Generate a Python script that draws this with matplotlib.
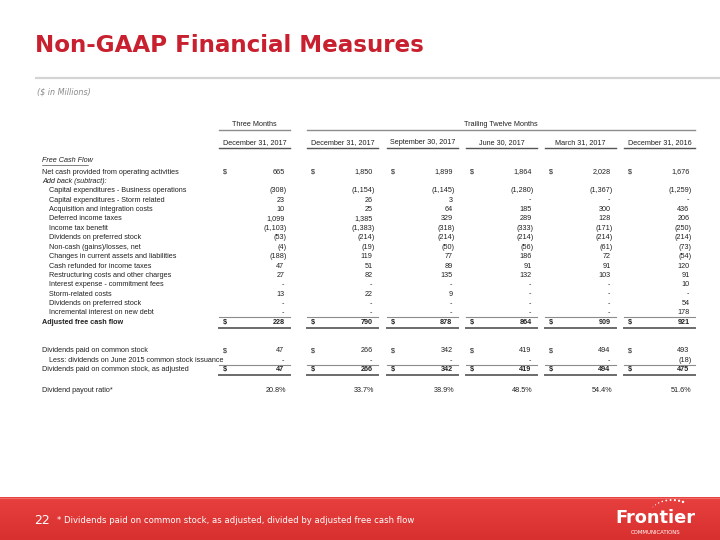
import matplotlib.pyplot as plt
import numpy as np

# ---- data ----
title = 'Non-GAAP Financial Measures'
subtitle = '($ in Millions)'
period_groups = ['Three Months', 'Trailing Twelve Months']
col_headers = ['December 31, 2017', 'December 31, 2017', 'September 30, 2017',
               'June 30, 2017', 'March 31, 2017', 'December 31, 2016']

row_labels = ['Net cash provided from operating activities',
              'Add back (subtract):',
              'Capital expenditures - Business operations',
              'Capital expenditures - Storm related',
              'Acquisition and integration costs',
              'Deferred income taxes',
              'Income tax benefit',
              'Dividends on preferred stock',
              'Non-cash (gains)/losses, net',
              'Changes in current assets and liabilities',
              'Cash refunded for income taxes',
              'Restructuring costs and other charges',
              'Interest expense - commitment fees',
              'Storm-related costs',
              'Dividends on preferred stock',
              'Incremental interest on new debt',
              'Adjusted free cash flow']
div_labels = ['Dividends paid on common stock',
              'Less: dividends on June 2015 common stock issuance',
              'Dividends paid on common stock, as adjusted']
ratio_label = 'Dividend payout ratio*'

# one list per column, rows in the order of row_labels (None = "-", 'x' = no value)
q4_2017 = [665, 'x', -308, 23, 10, 1099, -1103, -53, -4, -188, 47, 27, None, 13, None, None, 228]
ttm_dec17 = [1850, 'x', -1154, 26, 25, 1385, -1383, -214, -19, 119, 51, 82, None, 22, None, None, 790]
ttm_sep17 = [1899, 'x', -1145, 3, 64, 329, -318, -214, -50, 77, 89, 135, None, 9, None, None, 878]
ttm_jun17 = [1864, 'x', -1280, None, 185, 289, -333, -214, -56, 186, 91, 132, None, None, None, None, 864]
ttm_mar17 = [2028, 'x', -1367, None, 300, 128, -171, -214, -61, 72, 91, 103, None, None, None, None, 909]
ttm_dec16 = [1676, 'x', -1259, None, 436, 206, -250, -214, -73, -54, 120, 91, 10, None, 54, 178, 921]
columns = [q4_2017, ttm_dec17, ttm_sep17, ttm_jun17, ttm_mar17, ttm_dec16]

div_paid = [47, 266, 342, 419, 494, 493]
div_less = [None, None, None, None, None, -18]
div_adjusted = [47, 266, 342, 419, 494, 475]
payout_ratio = [20.8, 33.7, 38.9, 48.5, 54.4, 51.6]

footnote = '* Dividends paid on common stock, as adjusted, divided by adjusted free cash flow'
page_no = '22'


def fmt(v):
    if v is None:
        return '-'
    s = '{:,}'.format(abs(v))
    return '(' + s + ')' if v < 0 else s


# ---- layout ----
fig = plt.figure(figsize=(7.2, 5.4), dpi=100)
ax = fig.add_axes([0, 0, 1, 1])
ax.set_xlim(0, 720)
ax.set_ylim(540, 0)
ax.axis('off')

red = '#C8202F'
txt = '#222222'
fs = 5.2
tfont = ['Liberation Sans', 'DejaVu Sans']

ax.text(35, 45.5, title, fontsize=16.6, fontweight='bold', color=red,
        va='center', ha='left', family='DejaVu Sans')
ax.plot([35, 720], [78, 78], color='#d4d4d4', lw=1.6, solid_capstyle='butt')
ax.text(37, 92, subtitle, fontsize=5.8, style='italic', color='#8a8a8a', va='center')

col_left = [219, 307, 387, 466, 545, 624]
col_w = 71

# group headers
ax.text(col_left[0] + col_w / 2, 124, period_groups[0], fontsize=fs, color=txt,
        ha='center', va='center', family=tfont)
ax.plot([col_left[0], col_left[0] + col_w], [130, 130], color='#8c8c8c', lw=1.0)
ax.text((col_left[1] + col_left[-1] + col_w) / 2, 124, period_groups[1], fontsize=fs,
        color=txt, ha='center', va='center', family=tfont)
ax.plot([col_left[1], col_left[-1] + col_w], [130, 130], color='#8c8c8c', lw=1.0)

for x0, h in zip(col_left, col_headers):
    ax.text(x0 + col_w / 2, 142.5, h, fontsize=fs, color=txt, ha='center', va='center',
            family=tfont)
    ax.plot([x0, x0 + col_w], [148, 148], color='#555555', lw=1.0)

# free cash flow section
ax.text(42, 160, 'Free Cash Flow', fontsize=fs, style='italic', color=txt,
        va='center', family=tfont)
ax.plot([42, 88], [164.5, 164.5], color=txt, lw=0.4)

y0, dy = 172, 9.4
n = len(row_labels)
for i, lab in enumerate(row_labels):
    y = y0 + i * dy
    x = 42 if i in (0, 1, n - 1) else 49
    bold = i == n - 1
    ax.text(x, y, lab, fontsize=fs, color=txt, va='center',
            style='italic' if i == 1 else 'normal',
            fontweight='bold' if bold else 'normal', family=tfont)


def draw_value(x0, y, v, bold=False, dollar=False, pct=False):
    right = x0 + col_w
    w = 'bold' if bold else 'normal'
    if dollar:
        ax.text(x0 + 4, y, '$', fontsize=fs, color=txt, va='center', ha='left',
                fontweight=w, family=tfont)
    if pct:
        ax.text(right - 4, y, '{:.1f}%'.format(v), fontsize=fs, color=txt,
                va='center', ha='right', family=tfont)
    elif v is None:
        ax.text(right - 7, y, '-', fontsize=fs, color=txt, va='center', ha='center',
                family=tfont)
    elif v < 0:
        ax.text(right - 3.5, y, fmt(v), fontsize=fs, color=txt, va='center',
                ha='right', fontweight=w, family=tfont)
    else:
        ax.text(right - 5.5, y, fmt(v), fontsize=fs, color=txt, va='center',
                ha='right', fontweight=w, family=tfont)


for x0, col in zip(col_left, columns):
    for i, v in enumerate(col):
        if v == 'x':
            continue
        draw_value(x0, y0 + i * dy, v, bold=(i == n - 1), dollar=(i == 0 or i == n - 1))
    ytot = y0 + (n - 1) * dy
    ax.plot([x0, x0 + col_w], [ytot - 5.2, ytot - 5.2], color='#8c8c8c', lw=0.8)
    ax.plot([x0, x0 + col_w], [ytot + 5.6, ytot + 5.6], color='#6a6a6a', lw=1.4)

# dividends section
yd = [351, 360.4, 369.8]
for j, lab in enumerate(div_labels):
    ax.text(49 if j == 1 else 42, yd[j], lab, fontsize=fs, color=txt, va='center',
            family=tfont)
for k, x0 in enumerate(col_left):
    draw_value(x0, yd[0], div_paid[k], dollar=True)
    draw_value(x0, yd[1], div_less[k])
    draw_value(x0, yd[2], div_adjusted[k], bold=True, dollar=True)
    ax.plot([x0, x0 + col_w], [yd[2] - 5.0, yd[2] - 5.0], color='#8c8c8c', lw=0.8)
    ax.plot([x0, x0 + col_w], [yd[2] + 5.6, yd[2] + 5.6], color='#6a6a6a', lw=1.4)
    draw_value(x0, 391, payout_ratio[k], pct=True)
ax.text(42, 391, ratio_label, fontsize=fs, color=txt, va='center', family=tfont)

# footer band
grad = np.linspace(0, 1, 50).reshape(-1, 1)
band = plt.matplotlib.colors.LinearSegmentedColormap.from_list('band', ['#E8403F', '#D8302F'])
ax.imshow(grad, extent=[0, 720, 540, 497], cmap=band, aspect='auto', zorder=1)
ax.plot([0, 720], [497.5, 497.5], color='#EE6A66', lw=0.8, zorder=2)
ax.set_xlim(0, 720)
ax.set_ylim(540, 0)
ax.text(34, 521, page_no, fontsize=9, color='white', va='center', ha='left',
        family='DejaVu Sans', zorder=3)
ax.text(57, 520.5, footnote, fontsize=6.1, color='white', va='center', ha='left',
        family='DejaVu Sans', zorder=3)

# logo
ax.text(655.5, 518, 'Frontier', fontsize=12.8, fontweight='bold', color='white',
        va='center', ha='center', family='DejaVu Sans', zorder=3)
ax.text(655.5, 532.5, 'COMMUNICATIONS', fontsize=3.9, color='white', va='center',
        ha='center', family='DejaVu Sans', zorder=3)
ang = np.linspace(150, 60, 9)
ax.scatter(672 + 22 * np.cos(np.radians(ang)), 514 - 14 * np.sin(np.radians(ang)),
           s=np.linspace(0.3, 3, 9), color='white', zorder=3, linewidths=0)

fig.savefig('out.png', dpi=100, facecolor='white')
